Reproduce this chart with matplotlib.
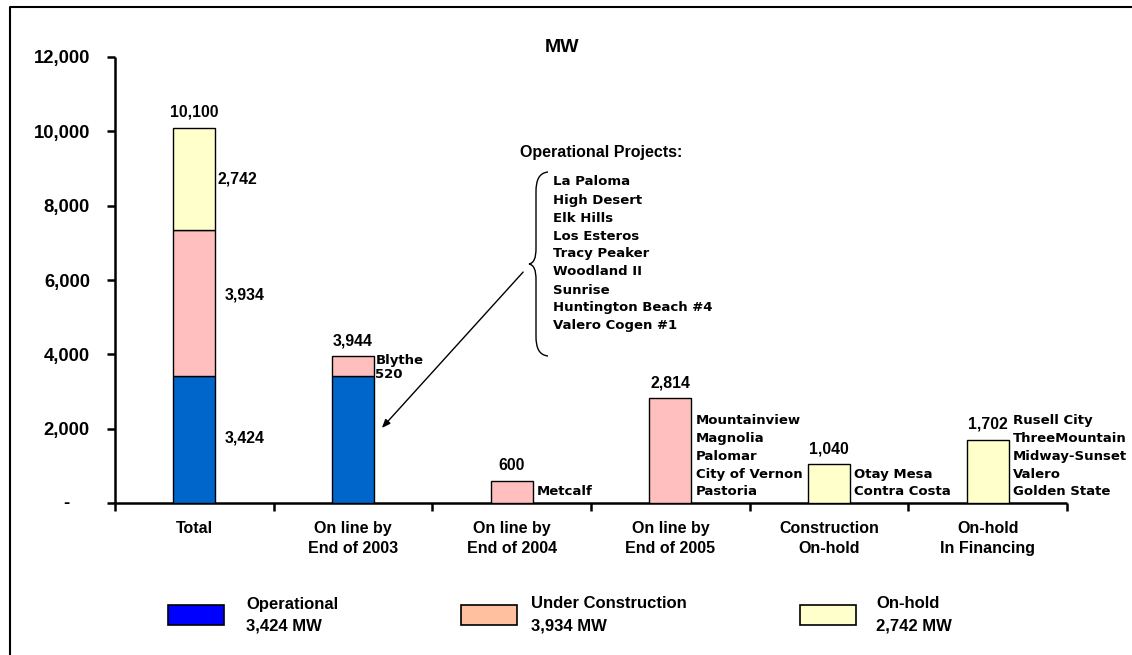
import matplotlib
matplotlib.use("Agg")
import matplotlib.pyplot as plt
import matplotlib.transforms as mtransforms
from matplotlib.path import Path
from matplotlib.patches import PathPatch, Rectangle, FancyArrowPatch
from matplotlib.lines import Line2D

# ---------------- data ----------------
categories = ["Total", "On line by\nEnd of 2003", "On line by\nEnd of 2004",
              "On line by\nEnd of 2005", "Construction\nOn-hold", "On-hold\nIn Financing"]
operational = [3424, 3424, 0, 0, 0, 0]
under_construction = [3934, 520, 600, 2814, 0, 0]
on_hold = [2742, 0, 0, 0, 1040, 1702]
totals = [10100, 3944, 600, 2814, 1040, 1702]
y_ticks = [0, 2000, 4000, 6000, 8000, 10000, 12000]

series_names = ["Operational", "Under Construction", "On-hold"]
series_totals = ["3,424 MW", "3,934 MW", "2,742 MW"]
bar_colors = ["#0066CC", "#FFBFBF", "#FFFFCC"]
legend_colors = ["#0000FF", "#FFC0A0", "#FFFFCC"]

operational_projects = ["La Paloma", "High Desert", "Elk Hills", "Los Esteros",
                        "Tracy Peaker", "Woodland II", "Sunrise",
                        "Huntington Beach #4", "Valero Cogen #1"]
blythe_labels = ["Blythe", "520"]
projects_2004 = ["Metcalf"]
projects_2005 = ["Mountainview", "Magnolia", "Palomar", "City of Vernon", "Pastoria"]
projects_construction_hold = ["Otay Mesa", "Contra Costa"]
projects_financing = ["Rusell City", "ThreeMountain", "Midway-Sunset", "Valero", "Golden State"]

# ---------------- layout ----------------
W, H = 1132, 655
FONT = "Liberation Sans"
PFONT = "DejaVu Sans"


def fx(x):
    return x / W


def fy(y):
    return 1 - y / H


fig = plt.figure(figsize=(W / 100, H / 100), dpi=100)
fig.patch.set_facecolor("white")

# outer frame (only left and top edges visible)
fig.add_artist(Line2D([fx(10), fx(10), fx(1132)], [fy(655), fy(7), fy(7)],
                      transform=fig.transFigure, color="black", lw=1.5))

ax = fig.add_axes([fx(115), fy(503), fx(1067) - fx(115), fy(57) - fy(503)])
ax.set_xlim(-0.5, 5.5)
ax.set_ylim(0, 12000)
for s in ["top", "right"]:
    ax.spines[s].set_visible(False)
for s in ["left", "bottom"]:
    ax.spines[s].set_linewidth(1.8)
    ax.spines[s].set_capstyle("butt")

bw = 0.265
x = list(range(len(categories)))
bottom2 = [a + b for a, b in zip(operational, under_construction)]
for i in x:
    if operational[i] > 0:
        ax.bar(i, operational[i], width=bw, color=bar_colors[0], edgecolor="black", lw=1.0, zorder=3)
    if under_construction[i] > 0:
        ax.bar(i, under_construction[i], bottom=operational[i], width=bw, color=bar_colors[1],
               edgecolor="black", lw=1.0, zorder=3)
    if on_hold[i] > 0:
        ax.bar(i, on_hold[i], bottom=bottom2[i], width=bw, color=bar_colors[2],
               edgecolor="black", lw=1.0, zorder=3)

# y axis ticks
ax.set_yticks(y_ticks)
ax.set_yticklabels([f"{v:,}" if v else "" for v in y_ticks])
ax.tick_params(axis="y", direction="out", length=6, width=1.8, pad=12)
for lab in ax.get_yticklabels():
    lab.set_fontfamily(FONT)
    lab.set_fontweight("bold")
    lab.set_fontsize(13.3)
dash = ax.text(-0.5, 0, "-", fontsize=13.3, fontweight="bold",
               family=FONT, ha="right", va="center")
dash.set_transform(ax.transData + mtransforms.ScaledTranslation(-45 / 100, 0, fig.dpi_scale_trans))

# x axis: boundary ticks + category labels
ax.set_xticks([i - 0.5 for i in range(len(categories) + 1)])
ax.set_xticklabels([])
ax.tick_params(axis="x", which="major", direction="out", length=6, width=1.8)
ax.set_xticks(x, minor=True)
ax.set_xticklabels(categories, minor=True, fontsize=11.5, fontweight="bold", family=FONT,
                   linespacing=1.4)
ax.tick_params(axis="x", which="minor", length=0, pad=13)

# total labels above bars
for i in x:
    ax.annotate(f"{totals[i]:,}", xy=(i, totals[i]), xytext=(0, 11), textcoords="offset points",
                ha="center", va="center", fontsize=11.4, fontweight="bold", family=FONT)

# segment labels for the Total bar
seg_vals = [operational[0], under_construction[0], on_hold[0]]
seg_bottoms = [0, operational[0], bottom2[0]]
seg_dx = [0.19, 0.19, 0.145]
seg_dy = [50, 200, 0]
for v, b, dx, dy in zip(seg_vals, seg_bottoms, seg_dx, seg_dy):
    ax.text(dx, b + v / 2 + dy, f"{v:,}", ha="left", va="center", fontsize=11.4,
            fontweight="bold", family=FONT)

# project labels
pkw = dict(fontsize=9.5, fontweight="bold", family=PFONT, ha="left", va="center",
           textcoords="offset points")
# Blythe next to the 2003 bar top
ax.annotate(blythe_labels[0], xy=(1 + bw / 2, totals[1]), xytext=(1, -3), **pkw)
ax.annotate(blythe_labels[1], xy=(1 + bw / 2, totals[1]), xytext=(1, -13), **pkw)

for ci, names in [(2, projects_2004), (3, projects_2005), (4, projects_construction_hold),
                  (5, projects_financing)]:
    n = len(names)
    for j, name in enumerate(names):
        ax.annotate(name, xy=(ci + bw / 2, 0), xytext=(3, 8 + 12.8 * (n - 1 - j)), **pkw)

# title
fig.text(fx(562), fy(47), "MW", ha="center", va="center", fontsize=14, fontweight="bold", family=FONT)

# operational projects annotation
fig.text(fx(520), fy(152), "Operational Projects:", ha="left", va="center", fontsize=11.5,
         fontweight="bold", family=FONT)
for j, name in enumerate(operational_projects):
    fig.text(fx(553), fy(182 + 18 * j), name, ha="left", va="center", fontsize=9.5,
             fontweight="bold", family=PFONT)

# curly brace
bv = [(548, 172), (539, 173), (536, 180), (536, 192),
      (536, 248),
      (536, 258), (534, 263), (529, 264),
      (534, 265), (536, 270), (536, 280),
      (536, 336),
      (536, 348), (539, 355), (548, 356)]
codes = [Path.MOVETO, Path.CURVE4, Path.CURVE4, Path.CURVE4,
         Path.LINETO,
         Path.CURVE4, Path.CURVE4, Path.CURVE4,
         Path.CURVE4, Path.CURVE4, Path.CURVE4,
         Path.LINETO,
         Path.CURVE4, Path.CURVE4, Path.CURVE4]
brace = Path([(fx(a), fy(b)) for a, b in bv], codes)
fig.add_artist(PathPatch(brace, facecolor="none", edgecolor="black", lw=1.0,
                         transform=fig.transFigure))

# arrow pointing to the 2003 operational bar
arrow = FancyArrowPatch((fx(525), fy(270)), (fx(380), fy(430)), transform=fig.transFigure,
                        arrowstyle="-|>,head_length=5,head_width=2", color="black", lw=1.0)
fig.add_artist(arrow)

# legend
legend_box_x = [168, 461, 800]
legend_text_x = [246, 531, 876]
for k in range(3):
    fig.add_artist(Rectangle((fx(legend_box_x[k]), fy(625)), fx(56), fy(605) - fy(625),
                             transform=fig.transFigure, facecolor=legend_colors[k],
                             edgecolor="black", lw=1.2))
    fig.text(fx(legend_text_x[k]), fy(604), series_names[k], ha="left", va="center",
             fontsize=12, fontweight="bold", family=FONT)
    fig.text(fx(legend_text_x[k]), fy(626), series_totals[k], ha="left", va="center",
             fontsize=12, fontweight="bold", family=FONT)

fig.savefig("out.png", dpi=100, facecolor="white")
